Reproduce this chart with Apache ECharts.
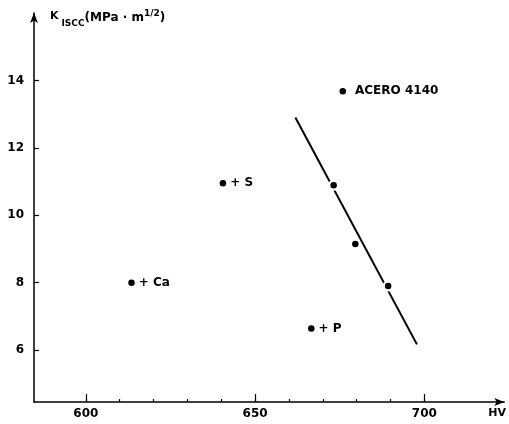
<!DOCTYPE html>
<html><head><meta charset="utf-8">
<script src="https://cdn.jsdelivr.net/npm/echarts@6/dist/echarts.min.js"></script>
<style>html,body{margin:0;padding:0;background:#fff}#c{width:509px;height:424px}</style>
</head><body><div id="c"></div>
<script>
// Data
const fitPointsHV = [675.9, 673.2, 679.6, 689.3];
const fitPointsK = [13.68, 10.89, 9.15, 7.9];
const fitPointLabels = ['ACERO 4140', '', '', ''];
const addedHV = [640.5, 613.5, 666.6];
const addedK = [10.95, 8.0, 6.64];
const addedLabels = ['+ S', '+ Ca', '+ P'];
const lineHV = [661.9, 697.8];
const lineK = [12.9, 6.17];
const xMajorTicks = [600, 650, 700];
const xMinorTicks = [600, 610, 620, 630, 640, 650, 660, 670, 680, 690, 700];
const yTicks = [6, 8, 10, 12, 14];
const onLine = [true, true, false, true];

const font = 'DejaVu Sans';
const chart = echarts.init(document.getElementById('c'), null, {renderer: 'canvas'});
const lblStyle = {show: true, position: 'right', distance: 4, color: '#000', fontFamily: font, fontWeight: 'bold', fontSize: 12};
chart.setOption({
  backgroundColor: '#fff',
  animation: false,
  grid: {left: 34, top: 13, width: 471, height: 389, containLabel: false},
  xAxis: [{
    type: 'value', min: 584.7, max: 723.6,
    axisLine: {show: true, lineStyle: {color: '#000', width: 1.5}, symbol: ['none', 'arrow'], symbolSize: [6, 10]},
    axisTick: {show: true, inside: true, length: 3, customValues: xMinorTicks, lineStyle: {color: '#000', width: 1.2}},
    axisLabel: {show: true, customValues: xMajorTicks, margin: 6, color: '#000', fontFamily: font, fontWeight: 'bold', fontSize: 12, letterSpacing: 1},
    splitLine: {show: false},
    name: 'HV', nameLocation: 'end', nameGap: -16,
    nameTextStyle: {color: '#000', fontFamily: font, fontWeight: 'bold', fontSize: 11, verticalAlign: 'top', padding: [6, 0, 0, 0]}
  }, {
    type: 'value', min: 584.7, max: 723.6, position: 'bottom',
    axisLine: {show: false},
    axisTick: {show: true, inside: true, length: 8, customValues: xMajorTicks, lineStyle: {color: '#000', width: 1.2}},
    axisLabel: {show: false}, splitLine: {show: false}
  }],
  yAxis: {
    type: 'value', min: 4.46, max: 16.0,
    axisLine: {show: true, lineStyle: {color: '#000', width: 1.5}, symbol: ['none', 'arrow'], symbolSize: [6, 10]},
    axisTick: {show: true, inside: true, length: 5, customValues: yTicks, lineStyle: {color: '#000', width: 1.2}},
    axisLabel: {show: true, customValues: yTicks, margin: 10, color: '#000', fontFamily: font, fontWeight: 'bold', fontSize: 12},
    splitLine: {show: false},
    name: '{k|K}{sub|ISCC}{u|(MPa · m}{sup|1/2}{u|)}',
    nameLocation: 'end', nameGap: -16,
    nameTextStyle: {
      align: 'left', padding: [0, 0, 0, 16],
      rich: {
        k: {fontFamily: font, fontWeight: 'bold', fontSize: 11, color: '#000', padding: [0, 3, 6, 0]},
        sub: {fontFamily: font, fontWeight: 'bold', fontSize: 9, color: '#000', padding: [10, 0, 0, 0]},
        u: {fontFamily: font, fontWeight: 'bold', fontSize: 12, color: '#000', padding: [0, 0, 2, 0]},
        sup: {fontFamily: font, fontWeight: 'bold', fontSize: 9, color: '#000', padding: [0, 0, 11, 0]}
      }
    }
  },
  series: [
    {type: 'line', xAxisIndex: 0, data: lineHV.map((v, i) => [v, lineK[i]]), symbol: 'none',
     lineStyle: {color: '#000', width: 2}, z: 2},
    {type: 'scatter', xAxisIndex: 0, data: fitPointsHV.map((v, i) => [v, fitPointsK[i]]).filter((d, i) => onLine[i]),
     symbol: 'circle', symbolSize: 11, itemStyle: {color: '#fff', opacity: 1}, z: 3, silent: true},
    {type: 'scatter', xAxisIndex: 0,
     data: fitPointsHV.map((v, i) => ({value: [v, fitPointsK[i]], label: {...lblStyle, formatter: fitPointLabels[i], distance: 9, letterSpacing: 1}})),
     symbol: 'circle', symbolSize: 6.5, itemStyle: {color: '#000', opacity: 1}, z: 4},
    {type: 'scatter', xAxisIndex: 0,
     data: addedHV.map((v, i) => ({value: [v, addedK[i]], label: {...lblStyle, formatter: addedLabels[i]}})),
     symbol: 'circle', symbolSize: 6.5, itemStyle: {color: '#000', opacity: 1}, z: 4}
  ]
});
</script></body></html>
